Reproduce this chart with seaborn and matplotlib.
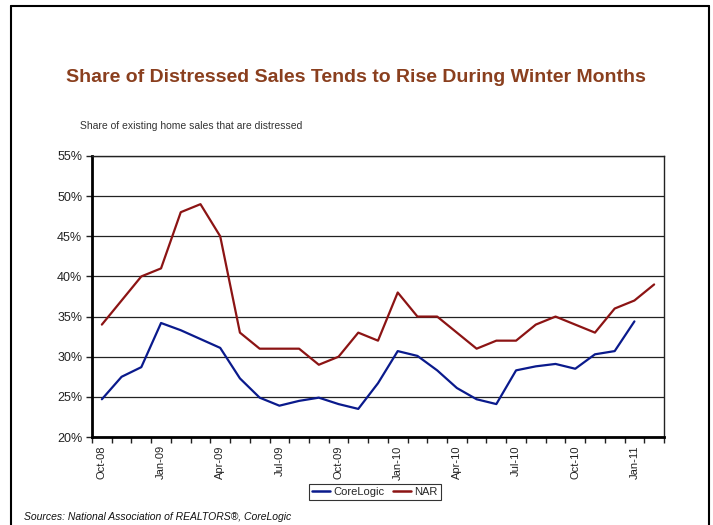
import numpy as np
import pandas as pd
import matplotlib
matplotlib.use("Agg")
import matplotlib.pyplot as plt
from matplotlib.lines import Line2D
import seaborn as sns

months = ["Oct-08", "Nov-08", "Dec-08", "Jan-09", "Feb-09", "Mar-09", "Apr-09", "May-09",
          "Jun-09", "Jul-09", "Aug-09", "Sep-09", "Oct-09", "Nov-09", "Dec-09", "Jan-10",
          "Feb-10", "Mar-10", "Apr-10", "May-10", "Jun-10", "Jul-10", "Aug-10", "Sep-10",
          "Oct-10", "Nov-10", "Dec-10", "Jan-11", "Feb-11"]
corelogic = [24.7, 27.5, 28.7, 34.2, 33.3, 32.2, 31.1, 27.3, 24.9, 23.9, 24.5, 24.9, 24.1,
             23.5, 26.7, 30.7, 30.1, 28.3, 26.1, 24.7, 24.1, 28.3, 28.8, 29.1, 28.5, 30.3,
             30.7, 34.4, np.nan]
nar = [34, 37, 40, 41, 48, 49, 45, 33, 31, 31, 31, 29, 30, 33, 32, 38, 35, 35, 33, 31, 32,
       32, 34, 35, 34, 33, 36, 37, 39]
tick_labels = ["Oct-08", "Jan-09", "Apr-09", "Jul-09", "Oct-09", "Jan-10", "Apr-10",
               "Jul-10", "Oct-10", "Jan-11"]
series_names = ["CoreLogic", "NAR"]
colors = ["#0A1A8C", "#8C1414"]

idx = np.arange(len(months))
df = pd.DataFrame({
    "idx": np.concatenate([idx, idx]),
    "value": np.concatenate([corelogic, nar]),
    "series": [series_names[0]] * len(months) + [series_names[1]] * len(months),
})

sns.set_theme(style="white")
plt.rcParams["font.family"] = ["Liberation Sans", "DejaVu Sans"]

fig = plt.figure(figsize=(7.13, 5.25), dpi=100)
ax = fig.add_axes([92 / 713, 1 - 437 / 525, (664 - 92) / 713, (437 - 156) / 525])

sns.lineplot(data=df, x="idx", y="value", hue="series", palette=colors,
             hue_order=series_names, linewidth=1.6, ax=ax, legend=False)

ax.set_xlim(-0.5, len(months) - 0.5)
ax.set_ylim(20, 55)
ax.set_yticks(np.arange(20, 56, 5))
ax.set_yticklabels([f"{v}%" for v in range(20, 56, 5)], fontsize=9, color="#222222")
ax.yaxis.grid(True, color="#222222", linewidth=0.9)
ax.xaxis.grid(False)

pos = [months.index(t) for t in tick_labels]
ax.set_xticks(pos)
ax.set_xticklabels(tick_labels, rotation=90, fontsize=8, color="#222222")
ax.set_xticks(np.arange(-0.5, len(months), 1), minor=True)
ax.tick_params(axis="x", which="major", length=0, pad=6)
ax.tick_params(axis="x", which="minor", length=4, width=1, color="#222222", direction="out", bottom=True)
ax.tick_params(axis="y", which="major", length=4, width=1, color="#222222", direction="out", left=True, pad=3)
ax.set_xlabel("")
ax.set_ylabel("")

for s in ["left", "bottom"]:
    ax.spines[s].set_linewidth(2)
    ax.spines[s].set_color("black")
for s in ["top", "right"]:
    ax.spines[s].set_linewidth(1)
    ax.spines[s].set_color("#222222")

handles = [Line2D([0], [0], color=c, linewidth=1.8) for c in colors]
leg = fig.legend(handles, series_names, loc="center", bbox_to_anchor=(375 / 713, 1 - 492 / 525),
                 ncol=2, frameon=True, fancybox=False, edgecolor="black", fontsize=8,
                 handlelength=1.6, handletextpad=0.3, columnspacing=0.8,
                 borderpad=0.3, borderaxespad=0)
leg.get_frame().set_linewidth(0.8)

fig.text(356 / 713, 1 - 77 / 525, "Share of Distressed Sales Tends to Rise During Winter Months",
         ha="center", va="center", fontsize=14, fontweight="bold", color="#8A3F1E")
fig.text(80 / 713, 1 - 126 / 525, "Share of existing home sales that are distressed",
         ha="left", va="center", fontsize=7.5, color="#333333")
fig.text(24 / 713, 1 - 517 / 525, "Sources: National Association of REALTORS®, CoreLogic",
         ha="left", va="center", fontsize=7.5, style="italic", color="#111111")

for xy in [((11 / 713, 11 / 713), (0, 1 - 6 / 525)),
           ((11 / 713, 709 / 713), (1 - 6 / 525, 1 - 6 / 525)),
           ((709 / 713, 709 / 713), (0, 1 - 6 / 525))]:
    fig.add_artist(Line2D(xy[0], xy[1], color="black", linewidth=1.5, transform=fig.transFigure))

fig.savefig("out.png", dpi=100)
